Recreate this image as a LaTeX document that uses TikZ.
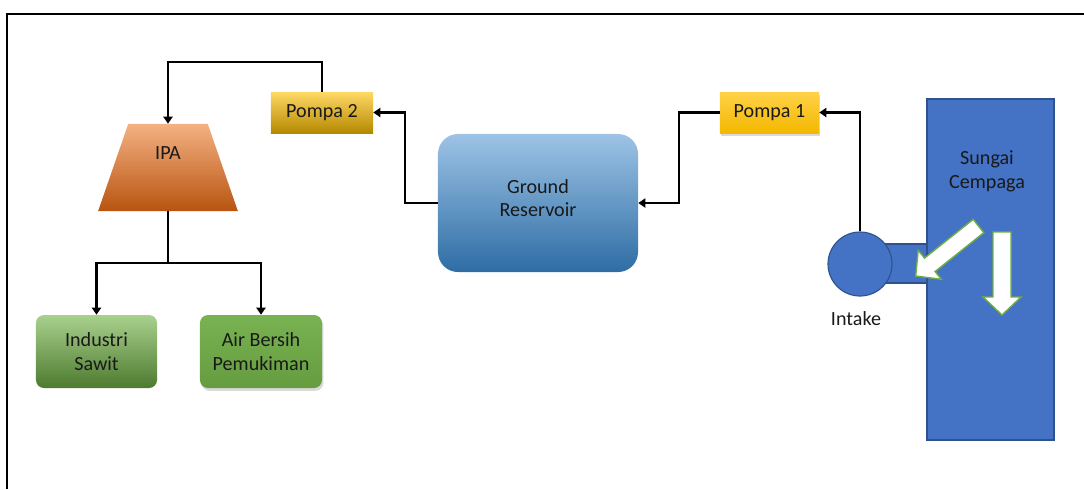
\documentclass[tikz,border=0pt]{standalone}
\usepackage{fontspec}
\setmainfont{Carlito}
\usepackage{tikz}
\usetikzlibrary{arrows.meta,positioning,shapes.geometric,shadows}
\definecolor{pumpT}{RGB}{255,217,102}
\definecolor{pumpM}{RGB}{255,192,0}
\definecolor{pumpB}{RGB}{180,136,0}
\definecolor{ipaT}{RGB}{244,177,131}
\definecolor{ipaM}{RGB}{237,125,49}
\definecolor{ipaB}{RGB}{184,84,16}
\definecolor{resT}{RGB}{157,195,230}
\definecolor{resM}{RGB}{91,155,213}
\definecolor{resB}{RGB}{46,109,164}
\definecolor{grnT}{RGB}{169,209,142}
\definecolor{grnM}{RGB}{112,173,71}
\definecolor{grnB}{RGB}{78,122,47}
\definecolor{riv}{RGB}{68,114,196}
\definecolor{rivD}{RGB}{47,82,143}

\begin{document}
\begin{tikzpicture}[
  x=0.025cm,y=-0.025cm,
  txt/.style={font=\fontsize{14.3}{17}\selectfont,text=black!90,align=center},
  pump/.style={rectangle,minimum height=1.025cm,inner sep=0pt,txt,
    top color=pumpT,middle color=pumpM,bottom color=pumpB},
  shd/.style={drop shadow={shadow xshift=1pt,shadow yshift=-2pt,opacity=.3}},
  user/.style={rectangle,rounded corners=0.2cm,minimum width=3.05cm,minimum height=1.825cm,inner sep=0pt,txt},
  water/.style={fill=riv,draw=rivD,line width=0.8pt},
  warr/.style={fill=white,draw=grnM,line width=1pt,line join=miter},
  flow/.style={-{Triangle[length=5pt,width=6.5pt]},line width=1.5pt},
  pipe/.style={line width=1.5pt},
  frame/.style={line width=1.5pt}
]
  \useasboundingbox (0,0) rectangle (1084,489);
  % ---------------- FRAME ----------------
  \draw[frame] (7,489) -- (7,14) -- (1084,14);
  % ---------------- RIVER + INTAKE ----------------
  \filldraw[water] (860,244) rectangle (927,283);
  \node[water,minimum width=3.175cm,minimum height=8.525cm,inner sep=0pt] (river) at (990.5,269.5) {};
  \node[txt] (sungai) at (987,171) {Sungai\\Cempaga};
  \node[water,circle,minimum size=1.6cm,inner sep=0pt] (intake) at (860,264) {};
  \node[txt] (intaketxt) at (856,319) {Intake};
  \filldraw[warr] (983.8,232.7) -- (973.2,219.3) -- (924.5,258.1) -- (918.2,250.3)
    -- (915.7,276) -- (941.4,279.3) -- (935.1,271.5) -- cycle;
  \filldraw[warr] (993,232) -- (1011,232) -- (1011,297) -- (1021,297)
    -- (1002,315) -- (983,297) -- (993,297) -- cycle;
  % ---------------- PUMPS + RESERVOIR ----------------
  \node[pump,shd,minimum width=2.475cm,top color=pumpT!70!pumpM,bottom color=pumpM!85!pumpB] (pompa1) at (769.5,112.5) {Pompa 1};
  \node[pump,minimum width=2.55cm] (pompa2) at (322,112.5) {Pompa 2};
  \node[rectangle,rounded corners=0.5cm,minimum width=5cm,minimum height=3.45cm,inner sep=0pt,txt,
    text depth=0.25cm,top color=resT,middle color=resM,bottom color=resB] (gr) at (538,203) {Ground\\Reservoir};
  % ---------------- IPA ----------------
  \node[trapezium,trapezium angle=76.4,trapezium stretches=true,minimum width=3.5cm,minimum height=2.175cm,
    inner sep=0pt,txt,text height=0.3cm,text depth=0.7cm,
    top color=ipaT,middle color=ipaM,bottom color=ipaB] (ipa) at (168,167.5) {IPA};
  % ---------------- USERS ----------------
  \node[user,minimum width=3.025cm,top color=grnT,middle color=grnM!85!grnT,bottom color=grnB] (ind) at (96.5,351.5) {Industri\\Sawit};
  \node[user,shd,top color=grnM!85!grnT,bottom color=grnM!90!black] (air) at (261,351.5) {Air Bersih\\Pemukiman};
  % ---------------- FLOW ----------------
  \draw[flow] (intake.north) |- (pompa1.east);
  \draw[flow] (pompa1.west) -- ++(-41,0) |- (gr.east);
  \draw[flow] (gr.west) -- ++(-33,0) |- (pompa2.east);
  \draw[flow] (pompa2.north) -- ++(0,-30) -| (ipa.north);
  \draw[pipe] (ipa.south) -- ++(0,52) coordinate (split);
  \foreach \u in {ind,air}{\draw[flow] (split) -| (\u.north);}
\end{tikzpicture}
\end{document}
